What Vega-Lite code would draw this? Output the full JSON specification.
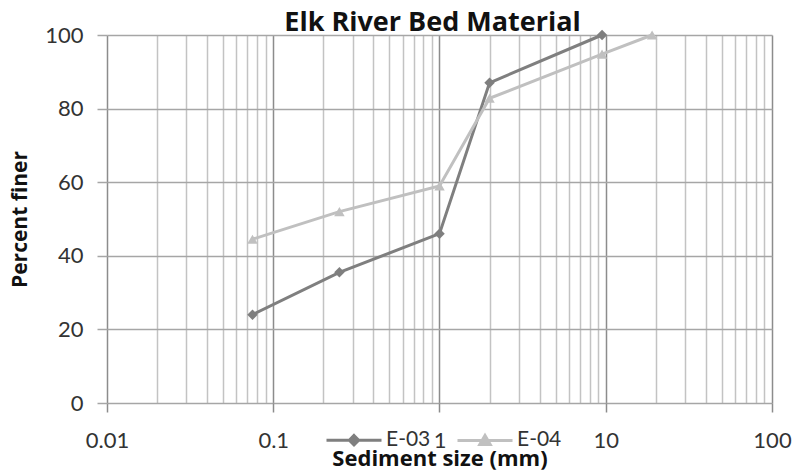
{
  "$schema": "https://vega.github.io/schema/vega-lite/v6.json",
  "width": 665,
  "height": 368,
  "autosize": {"type": "none"},
  "padding": {"left": 107, "top": 35, "right": 25, "bottom": 73},
  "background": "white",
  "config": {
    "view": {"stroke": null},
    "font": "Lato"
  },
  "title": {
    "text": "Elk River Bed Material",
    "font": "Open Sans",
    "fontSize": 27,
    "fontWeight": "bold",
    "color": "#111111",
    "anchor": "middle",
    "offset": -13,
    "dx": -7
  },
  "data": {
    "values": [
      {"size": 0.075, "finer": 24, "sample": "E-03"},
      {"size": 0.25, "finer": 35.5, "sample": "E-03"},
      {"size": 1, "finer": 46, "sample": "E-03"},
      {"size": 2, "finer": 87, "sample": "E-03"},
      {"size": 9.5, "finer": 100, "sample": "E-03"},
      {"size": 0.075, "finer": 44.5, "sample": "E-04"},
      {"size": 0.25, "finer": 52, "sample": "E-04"},
      {"size": 1, "finer": 59, "sample": "E-04"},
      {"size": 2, "finer": 82.8, "sample": "E-04"},
      {"size": 9.5, "finer": 94.8, "sample": "E-04"},
      {"size": 19, "finer": 100, "sample": "E-04"}
    ]
  },
  "encoding": {
    "x": {
      "field": "size",
      "type": "quantitative",
      "scale": {"type": "log", "domain": [0.01, 100], "nice": false},
      "axis": {
        "title": "Sediment size (mm)",
        "titleFont": "Open Sans",
        "titleFontSize": 22,
        "titleFontWeight": "bold",
        "titleColor": "#111111",
        "titlePadding": -3,
        "values": [0.01,0.02,0.03,0.04,0.05,0.06,0.07,0.08,0.09,0.1,0.2,0.3,0.4,0.5,0.6,0.7,0.8,0.9,1,2,3,4,5,6,7,8,9,10,20,30,40,50,60,70,80,90,100],
        "format": "~g",
        "labelExpr": "indexof([0.01,0.1,1,10,100], datum.value) >= 0 ? datum.label : ''",
        "labelFont": "Lato",
        "labelFontSize": 22,
        "labelColor": "#333333",
        "labelPadding": 18,
        "labelOverlap": false,
        "labelFlush": false,
        "domain": false,
        "grid": true,
        "gridWidth": 1.5,
        "gridColor": {"condition": {"test": "indexof([0.01,0.1,1,10,100], datum.value) >= 0", "value": "#8c8c8c"}, "value": "#c3c3c3"},
        "tickSize": 9,
        "tickWidth": 1.5,
        "tickColor": "#8c8c8c",
        "tickOpacity": {"condition": {"test": "indexof([0.01,0.1,1,10,100], datum.value) >= 0", "value": 1}, "value": 0}
      }
    },
    "y": {
      "field": "finer",
      "type": "quantitative",
      "scale": {"domain": [0, 100], "nice": false},
      "axis": {
        "title": "Percent finer",
        "titleFont": "Open Sans",
        "titleFontSize": 21,
        "titleFontWeight": "bold",
        "titleColor": "#111111",
        "titlePadding": 14,
        "values": [0, 20, 40, 60, 80, 100],
        "labelFont": "Lato",
        "labelFontSize": 22,
        "labelColor": "#333333",
        "labelPadding": 14,
        "domain": false,
        "grid": true,
        "gridColor": "#a6a6a6",
        "gridWidth": 1.5,
        "tickSize": 10,
        "tickColor": "#a6a6a6",
        "tickWidth": 1.5
      }
    },
    "color": {
      "field": "sample",
      "type": "nominal",
      "scale": {"domain": ["E-03", "E-04"], "range": ["#7f7f7f", "#c0c0c0"]},
      "legend": {
        "title": null,
        "orient": "none",
        "direction": "horizontal",
        "legendX": 218,
        "legendY": 376,
        "symbolSize": 3025,
        "symbolStrokeWidth": 3,
        "labelFont": "Lato",
        "labelFontSize": 21,
        "labelColor": "#333333",
        "labelOffset": 3,
        "columnPadding": 20,
        "encode": {
          "symbols": {
            "update": {
              "shape": {"signal": "datum.value == 'E-03' ? 'M-1,0H1M0,-0.17L0.17,0L0,0.17L-0.17,0Z' : 'M-1,0H1M0,-0.18L0.19,0.15L-0.19,0.15Z'"},
              "stroke": {"signal": "datum.value == 'E-03' ? '#7f7f7f' : '#c0c0c0'"},
              "fill": {"signal": "datum.value == 'E-03' ? '#7f7f7f' : '#c0c0c0'"},
              "strokeWidth": {"value": 3},
              "opacity": {"value": 1}
            }
          }
        }
      }
    }
  },
  "layer": [
    {
      "mark": {"type": "line", "strokeWidth": 3}
    },
    {
      "transform": [{"filter": "datum.sample == 'E-03'"}],
      "mark": {"type": "point", "filled": true, "opacity": 1, "size": 110, "shape": "diamond"}
    },
    {
      "transform": [{"filter": "datum.sample == 'E-04'"}],
      "mark": {"type": "point", "filled": true, "opacity": 1, "size": 110, "shape": "triangle-up"}
    }
  ]
}
